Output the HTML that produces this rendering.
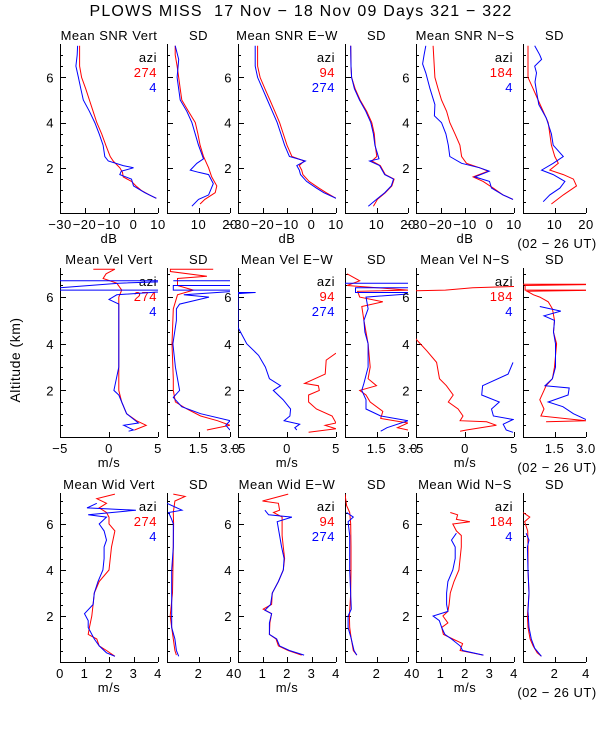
<!DOCTYPE html>
<html><head><meta charset="utf-8"><style>
body{margin:0;background:#fff;}
svg{display:block;font-family:"Liberation Sans",sans-serif;}
text{font-size:13px;letter-spacing:0.5px;}
</style></head><body>
<svg id="chart" width="600" height="750" viewBox="0 0 600 750" xmlns="http://www.w3.org/2000/svg">
<text x="301" y="16" text-anchor="middle" xml:space="preserve" style="font-size:16px;letter-spacing:1.2px">PLOWS MISS  17 Nov − 18 Nov 09 Days 321 − 322</text>
<text x="0" y="0" transform="translate(20,360) rotate(-90)" text-anchor="middle" style="font-size:14px">Altitude (km)</text>
</svg>
<script>
// ---- data: [altitude km] and [value] per series ----
const snrVertRA=[7.4,7.0,6.5,6.0,5.5,5.0,4.5,4.0,3.5,3.0,2.5,2.3,2.0,1.8,1.6,1.4,1.2,1.0,0.8,0.65];
const snrVertRV=[-22,-22,-22,-21.2,-19.5,-18,-16.5,-15,-13,-11.3,-9.5,-8.3,-5.6,-4.5,-4.2,-0.8,1,3.2,6.5,9.3];
const snrVertBA=[7.4,7.0,6.5,6.0,5.5,5.0,4.5,4.0,3.5,3.0,2.5,2.3,2.1,2.0,1.85,1.7,1.5,1.2,0.9,0.65];
const snrVertBV=[-22.8,-23,-23.5,-22.5,-21.5,-20.5,-18,-15.8,-14,-12.4,-11.7,-10.3,-4.2,0,-5,-5.6,-0.8,0,4.6,9.3];
const sdSnrVertRA=[7.4,7.0,6.5,6.0,5.5,5.0,4.5,4.0,3.5,3.0,2.5,2.0,1.6,1.2,0.9,0.6,0.4];
const sdSnrVertRV=[2.6,2.6,3.2,3.7,4.2,4.7,6.8,9,9.8,10.5,11.6,13.2,14.2,15.8,15.3,12,10.5];
const sdSnrVertBA=[7.4,6.8,6.0,5.0,4.5,4.0,3.0,2.4,2.2,1.9,1.8,1.7,1.3,0.8,0.6,0.3];
const sdSnrVertBV=[2.6,3.7,3.2,4.2,6.3,7.9,10,11.6,9.5,7.4,10,13.2,14.7,13.2,10,7.9];
const snrEwRA=[7.4,6.5,6.0,5.5,5.0,4.5,4.0,3.5,3.0,2.5,2.3,2.1,1.9,1.7,1.4,1.1,0.9,0.65];
const snrEwRV=[-22,-22,-21,-19,-17,-15,-13,-11.5,-10,-8,-3,-5,-4,-3.5,-1,3,6,10];
const snrEwBA=[7.4,6.5,6.0,5.5,5.0,4.5,4.0,3.5,3.0,2.5,2.3,2.1,1.9,1.7,1.4,1.1,0.9,0.65];
const snrEwBV=[-23,-23,-22,-20,-18,-16,-14,-12.5,-11,-9,-2.5,-6,-5,-4.5,-2,2,5,10];
const sdSnrEwRA=[7.4,6.5,6.0,5.5,5.0,4.5,4.0,3.5,3.0,2.5,2.3,2.1,1.7,1.5,1.2,0.9,0.6,0.3];
const sdSnrEwRV=[1.8,1.9,2.1,3.2,4.8,6.9,8.5,9.3,9.6,10.1,8.5,11.2,12.8,15.6,14.9,12.8,10.3,9];
const sdSnrEwBA=[7.4,6.5,6.0,5.5,5.0,4.5,4.0,3.5,3.0,2.4,2.3,2.1,1.7,1.5,1.2,0.9,0.6,0.3];
const sdSnrEwBV=[1.8,1.9,2.1,3.0,4.6,6.6,8.2,9.0,9.5,10.8,7.8,11,12.6,15.4,14.7,12.6,10,7.4];
const snrNsRA=[7.4,6.0,5.5,5.0,4.5,4.0,3.5,3.0,2.5,2.2,2.0,1.85,1.6,1.4,1.1,0.8,0.6];
const snrNsRV=[-23,-22.3,-21,-19.6,-17.5,-16.2,-14.1,-12.1,-11.4,-9.4,-4,-0.6,-6.7,-2.6,1.5,5.5,9.6];
const snrNsBA=[7.4,7.0,6.6,6.2,5.5,4.8,4.3,4.0,3.5,3.0,2.5,2.2,2.0,1.85,1.6,1.4,1.1,0.8,0.6];
const snrNsBV=[-26,-26.7,-27.3,-26,-24.3,-22.3,-22.5,-19.6,-17.8,-16.8,-16.2,-11.4,-4,-0.1,-6,0,0.8,5.5,9.6];
const sdSnrNsRA=[7.4,6.0,5.5,5.0,4.5,4.0,3.0,2.5,2.2,1.9,1.7,1.5,1.2,0.8,0.4];
const sdSnrNsRV=[1.6,1.6,3.2,4.8,6.4,8,9,10.1,11.2,8.5,12.8,16,17,12.8,9];
const sdSnrNsBA=[7.4,7.0,6.8,6.5,6.2,5.8,5.2,4.8,4.2,3.5,3.0,2.5,2.2,1.9,1.7,1.4,1.1,0.8,0.5];
const sdSnrNsBV=[3.7,5.3,5.9,3.7,4.3,3.8,4.5,5,7.4,9,9.6,12.8,9.6,5.9,9.6,13.3,11.7,8.5,6.4];
const velVertRA=[7.2,7.2,7.0,6.8,6.6,6.3,6.0,5.0,4.0,3.0,2.0,1.5,1.0,0.7,0.5,0.3];
const velVertRV=[-1.6,0.6,-0.3,-0.6,0.8,1.3,1.0,1.0,1.0,1.0,1.0,1.3,1.8,2.8,3.8,2.6];
const velVertBA=[6.7,6.7,6.6,6.3,6.3,6.1,5.9,5.7,5.0,3.0,2.2,2.0,1.8,1.5,1.0,0.6,0.5,0.3,0.25];
const velVertBV=[-8,8,1,-8,8,0.8,0,1.0,1.0,1.0,0.6,0.5,1.0,1.3,1.8,3.0,1.5,2.5,2.0];
const sdVelVertRA=[7.2,7.2,7.1,6.9,6.8,6.5,6.3,6.1,5.5,4.0,2.5,2.0,1.5,1.2,0.9,0.7,0.5,0.3];
const sdVelVertRV=[2.2,0.16,0.16,1.9,0.5,0.5,1.26,0.5,0.3,0.24,0.3,0.3,0.4,0.95,1.6,2.4,3,1.9];
const sdVelVertBA=[6.7,6.7,6.5,6.5,6.3,6.3,6.1,6.0,5.7,5.5,5.0,4.0,3.0,2.0,1.7,1.3,1.0,0.7,0.5,0.3];
const sdVelVertBV=[0.3,4,4,0.3,0.3,4,0.8,2,0.6,0.45,0.45,0.28,0.4,0.6,0.3,0.7,1.6,3,2.8,3];
const velEwRA=[3.6,3.3,2.7,2.3,2.2,2.0,1.8,1.5,1.2,0.9,0.6,0.5,0.35,0.2];
const velEwRV=[5,4.0,3.9,1.8,3.2,3.3,2.2,2.2,3,4.6,5,3.9,5,2.2];
const velEwBA=[6.2,6.2,6.15,4.7,4.0,3.5,3.0,2.5,2.2,2.0,1.6,1.2,0.9,0.7,0.55,0.4,0.3];
const velEwBV=[-5,-3.2,-5,-5,-4.1,-2.9,-2.2,-1.8,-0.65,-1.4,-0.4,0.37,0.3,-0.3,1.3,0.8,1];
const sdVelEwRA=[7.0,6.7,6.5,6.3,6.25,6.0,5.8,5.6,5.0,4.0,3.0,2.5,2.2,2.0,1.8,1.5,1.1,0.8,0.6,0.4,0.3];
const sdVelEwRV=[0.1,0.7,0.1,3,0.6,0.7,1.8,0.8,0.9,1.1,1.2,1.1,1.5,0.7,1.0,1.2,1.8,1.7,3,2.5,3];
const sdVelEwBA=[6.6,6.6,6.4,6.4,6.2,6.2,6.0,5.5,5.0,4.5,4.0,3.0,2.3,2.0,1.6,1.2,0.9,0.7,0.4,0.25];
const sdVelEwBV=[0,4,4,0.5,0.5,4,1.0,1.1,0.9,0.95,1.1,1.1,0.9,0.8,1.0,1.0,1.7,3,2,1.7];
const velNsRA=[6.5,6.4,6.3,6.25,4.2,3.7,3.2,2.5,2.2,1.8,1.5,1.2,0.9,0.7,0.65,0.5,0.3,0.25];
const velNsRV=[8,0.8,-2,-8,-5,-3.9,-2.9,-2.6,-1.9,-1.2,-1.7,-0.7,-0.2,-0.5,2.2,3.2,0.15,-0.5];
const velNsBA=[3.2,2.7,2.2,1.8,1.5,1.2,0.9,0.75,0.55,0.3,0.2];
const velNsBV=[4.9,4.4,1.8,1.7,3.5,2.7,2.9,4.9,3.9,4.2,4.9];
const sdVelNsRA=[6.55,6.55,6.5,6.3,6.3,6.25,6.1,6.0,5.8,5.5,5.0,4.5,4.0,3.0,2.5,2.2,2.0,1.6,1.2,0.9,0.7,0.65];
const sdVelNsRV=[0,4,0.1,0.1,4,0.2,0.5,0.8,1.2,1.4,1.5,1.45,1.6,1.5,1.4,1.1,1.0,0.8,1.0,0.85,3,1.1];
const sdVelNsBA=[5.6,5.4,5.2,5.0,4.5,4.0,3.0,2.5,2.2,2.1,1.8,1.5,1.3,1.0,0.75];
const sdVelNsBV=[0.8,1.8,1.0,1.5,1.45,1.55,1.55,1.4,1.05,2.2,2.15,1.2,1.9,2.4,3];
const widVertRA=[7.3,7.1,6.9,6.7,6.5,6.3,6.0,5.7,5.0,4.0,3.5,3.0,2.5,2.0,1.5,1.2,1.0,0.7,0.5,0.25];
const widVertRV=[2.24,1.5,1.9,1.6,1.9,2.0,2.0,2.24,2.1,2.0,1.6,1.4,1.35,1.3,1.2,1.15,1.5,1.6,1.9,2.24];
const widVertBA=[6.9,6.7,6.6,6.4,6.3,6.0,5.7,5.3,5.0,4.5,4.0,3.5,3.0,2.5,2.1,1.8,1.5,1.0,0.7,0.4,0.25];
const widVertBV=[1.5,1.1,3.1,1.15,1.9,1.6,1.8,1.9,1.8,1.8,1.75,1.55,1.4,1.35,1.0,1.15,1.15,1.4,1.6,1.9,2.24];
const sdWidVertRA=[7.3,7.2,7.0,6.5,6.0,5.0,3.0,2.0,1.5,1.0,0.5,0.3];
const sdWidVertRV=[0.4,1.15,0.5,0.4,0.42,0.4,0.35,0.2,0.3,0.4,0.5,0.6];
const sdWidVertBA=[6.9,6.6,6.5,6.2,6.0,5.0,4.0,3.0,2.0,1.5,1.0,0.5,0.25];
const sdWidVertBV=[0,0.95,0.1,0.3,0.4,0.4,0.3,0.3,0.3,0.3,0.5,0.6,0.74];
const widEwRA=[7.3,7.0,6.9,6.6,6.5,6.3,6.0,5.5,5.0,4.5,4.0,3.5,3.0,2.5,2.3,2.1,1.7,1.2,1.0,0.7,0.5,0.3];
const widEwRV=[2.05,1.0,1.65,1.7,1.45,1.8,1.8,1.8,1.85,1.9,1.85,1.65,1.4,1.37,1.03,1.37,1.3,1.28,1.55,1.65,2.05,2.6];
const widEwBA=[6.6,6.4,6.3,6.1,5.5,5.0,4.5,4.0,3.5,3.0,2.5,2.25,2.1,1.7,1.2,1.0,0.7,0.5,0.3];
const widEwBV=[1.1,1.25,2.2,1.6,1.7,1.78,1.88,1.85,1.65,1.4,1.33,1.1,1.37,1.28,1.28,1.58,1.7,2.1,2.7];
const sdWidEwRA=[7.3,6.8,6.5,6.0,5.0,4.0,3.0,2.0,1.5,1.0,0.5,0.3];
const sdWidEwRV=[0,0.1,0.3,0.36,0.38,0.38,0.36,0.28,0.3,0.4,0.53,0.75];
const sdWidEwBA=[6.5,6.3,6.1,5.5,4.0,2.3,2.0,1.5,1.0,0.5,0.3];
const sdWidEwBV=[0.1,0.53,0.2,0.3,0.3,0.4,0.2,0.2,0.4,0.57,0.75];
const widNsRA=[6.5,6.4,6.2,6.1,6.0,5.7,5.5,5.0,4.5,4.0,3.5,3.0,2.5,2.2,2.0,1.7,1.5,1.2,1.0,0.8,0.5,0.3];
const widNsRV=[1.4,1.7,1.65,2.2,1.5,1.65,1.85,1.85,1.8,1.75,1.55,1.4,1.35,1.3,1.1,1.3,1.05,1.12,1.5,1.9,1.8,2.75];
const widNsBA=[5.6,5.3,5.0,4.5,4.0,3.5,3.0,2.5,2.2,2.0,1.8,1.5,1.2,1.0,0.7,0.5,0.3];
const widNsBV=[1.65,1.45,1.6,1.6,1.5,1.3,1.25,1.25,1.3,0.7,0.95,1.05,1.18,1.45,1.8,1.9,2.75];
const sdWidNsRA=[6.5,6.3,6.1,5.7,5.0,4.0,3.0,2.0,1.5,1.0,0.7,0.4,0.25];
const sdWidNsRV=[0,0.43,0.1,0.3,0.32,0.32,0.38,0.28,0.32,0.45,0.64,0.9,1.17];
const sdWidNsBA=[5.6,5.3,5.0,4.0,3.0,2.2,1.5,1.0,0.6,0.25];
const sdWidNsBV=[0.2,0.38,0.28,0.32,0.38,0.32,0.38,0.53,0.74,1.17];
// ---- axis tick labels ----
const snrTicks=[-30,-20,-10,0,10], sdSnrTicks=[10,20];
const velTicks=[-5,0,5], sdVelTicks=[1.5,3.0];
const widTicks=[0,1,2,3,4], sdWidTicks=[2,4];
const altTicks=[2,4,6];
const titles=[["Mean SNR Vert","SD","Mean SNR E−W","SD","Mean SNR N−S","SD"],["Mean Vel Vert","SD","Mean Vel E−W","SD","Mean Vel N−S","SD"],["Mean Wid Vert","SD","Mean Wid E−W","SD","Mean Wid N−S","SD"]];
const aziRed=["274","94","184"], aziBlue=["4","274","4"];

const svg=document.getElementById('chart');
const NS='http://www.w3.org/2000/svg';
function mk(tag,attrs,parent){const e=document.createElementNS(NS,tag);for(const k in attrs)e.setAttribute(k,attrs[k]);(parent||svg).appendChild(e);return e;}
const colX=[[60,158],[167,230],[238,336],[345,408],[416,514],[523,586]];
const rowB=[213,437,662];
const rowYMax=[7.48,7.25,7.35];
const H=169;
const rowUnits=["dB","m/s","m/s"];
const ranges=[[[-30,10],[0,20]],[[-5,5],[0,3]],[[0,4],[0,4]]];
const tickSets=[[snrTicks,sdSnrTicks],[velTicks,sdVelTicks],[widTicks,sdWidTicks]];
const series=[
 [[snrVertRA,snrVertRV,snrVertBA,snrVertBV],[sdSnrVertRA,sdSnrVertRV,sdSnrVertBA,sdSnrVertBV],[snrEwRA,snrEwRV,snrEwBA,snrEwBV],[sdSnrEwRA,sdSnrEwRV,sdSnrEwBA,sdSnrEwBV],[snrNsRA,snrNsRV,snrNsBA,snrNsBV],[sdSnrNsRA,sdSnrNsRV,sdSnrNsBA,sdSnrNsBV]],
 [[velVertRA,velVertRV,velVertBA,velVertBV],[sdVelVertRA,sdVelVertRV,sdVelVertBA,sdVelVertBV],[velEwRA,velEwRV,velEwBA,velEwBV],[sdVelEwRA,sdVelEwRV,sdVelEwBA,sdVelEwBV],[velNsRA,velNsRV,velNsBA,velNsBV],[sdVelNsRA,sdVelNsRV,sdVelNsBA,sdVelNsBV]],
 [[widVertRA,widVertRV,widVertBA,widVertBV],[sdWidVertRA,sdWidVertRV,sdWidVertBA,sdWidVertBV],[widEwRA,widEwRV,widEwBA,widEwBV],[sdWidEwRA,sdWidEwRV,sdWidEwBA,sdWidEwBV],[widNsRA,widNsRV,widNsBA,widNsBV],[sdWidNsRA,sdWidNsRV,sdWidNsBA,sdWidNsBV]]];
function fmt(v){return (v<0?"−":"")+String(Math.abs(v));}
for(let r=0;r<3;r++){
 const b=rowB[r], t=b-H, YMAX=rowYMax[r];
 const yS=a=>b-a/YMAX*H;
 for(let c=0;c<6;c++){
  const [x0,x1]=colX[c]; const isSD=c%2===1;
  const [d0,d1]=ranges[r][isSD?1:0];
  const xS=v=>x0+(v-d0)/(d1-d0)*(x1-x0);
  const g=mk('g',{});
  
  
  const cid='clip'+r+c;
  const cp=mk('clipPath',{id:cid},g); mk('rect',{x:x0,y:t,width:x1-x0,height:H},cp);
  const ti=mk('text',{x:(x0+x1)/2,y:t-4,'text-anchor':'middle'},g); ti.textContent=titles[r][c];
  
  
  const ax=mk('path',{d:`M${x0+0.5},${t}V${b+0.5}H${x1}`,stroke:'#000',fill:'none','stroke-width':1},g);
  
  
  let td='';
  for(let a=0.5;a<=YMAX;a+=0.5){const y=Math.round(yS(a))+0.5;const L=(Math.abs(a%2)<1e-6)?6:3;td+=`M${x0},${y}h${L}`;}
  for(const v of tickSets[r][isSD?1:0]){const x=Math.round(xS(v))+0.5;td+=`M${x},${b}v-5`;}
  mk('path',{d:td,stroke:'#000','stroke-width':1},g);
  if(!isSD){for(const a of altTicks){const tl=mk('text',{x:x0-6,y:yS(a)+5,'text-anchor':'end'},g);tl.textContent=a;
   
   }}
  for(const v of tickSets[r][isSD?1:0]){
   const lbl=(r===1&&isSD)?v.toFixed(1):fmt(v);
   const tl=mk('text',{x:xS(v),y:b+16,'text-anchor':'middle'},g);tl.textContent=lbl;
   
   }
  if(!isSD){const u=mk('text',{x:(x0+x1)/2,y:b+30,'text-anchor':'middle'},g);u.textContent=rowUnits[r];
   
   
   const L=[['azi','#000'],[aziRed[c/2],'#f00'],[aziBlue[c/2],'#00f']];
   L.forEach((l,i)=>{const e=mk('text',{x:x1-1,y:t+18+15*i,'text-anchor':'end',fill:l[1]},g);e.textContent=l[0];
    
    });}
  const s=series[r][c];
  [[s[0],s[1],'#f00','red-series'],[s[2],s[3],'#00f','blue-series']].forEach(([A,V,col,nm])=>{
   const pts=A.map((a,i)=>xS(V[i]).toFixed(1)+','+yS(a).toFixed(1)).join(' ');
   const pl=mk('polyline',{points:pts,fill:'none',stroke:col,'stroke-width':1,'clip-path':`url(#${cid})`},g);
   
   
  });
 }
 const ut=mk('text',{x:557,y:b+35,'text-anchor':'middle'});ut.textContent='(02 − 26 UT)';
 
 
}
</script>
</body></html>
